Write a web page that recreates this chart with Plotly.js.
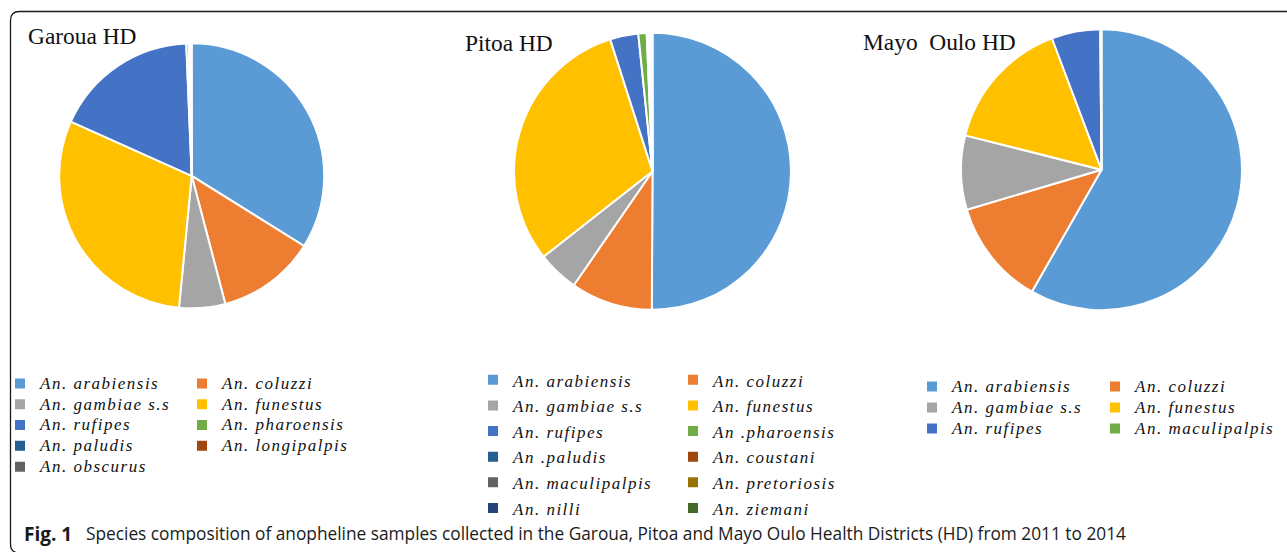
<!DOCTYPE html>
<html>
<head>
<meta charset="utf-8">
<script src="https://cdn.plot.ly/plotly-3.0.1.min.js"></script>
<style>
  html, body { margin: 0; padding: 0; background: #ffffff; overflow: hidden; }
  #page { position: relative; width: 1287px; height: 552px; }
  .plot { position: absolute; top: 0; height: 552px; }
</style>
</head>
<body>
<div id="page">
  <div id="bg" class="plot" style="left:0;width:1287px;"></div>
  <div id="garoua" class="plot" style="left:0;width:430px;"></div>
  <div id="pitoa" class="plot" style="left:430px;width:430px;"></div>
  <div id="mayo" class="plot" style="left:860px;width:427px;"></div>
</div>
<script>
// ---------------- DATA ----------------
const garouaTitle = "Garoua HD";
const garouaLabels = ["An. arabiensis", "An. coluzzi", "An. gambiae s.s", "An. funestus", "An. rufipes",
                      "An. pharoensis", "An. paludis", "An. longipalpis", "An. obscurus"];
const garouaValues = [33.8, 12.0, 5.6, 30.1, 17.6, 0.3, 0.15, 0.1, 0.1];

const pitoaTitle = "Pitoa HD";
const pitoaLabels = ["An. arabiensis", "An. coluzzi", "An. gambiae s.s", "An. funestus", "An. rufipes",
                     "An .pharoensis", "An .paludis", "An. coustani", "An. maculipalpis", "An. pretoriosis",
                     "An. nilli", "An. ziemani"];
const pitoaValues = [50.1, 9.55, 4.8, 30.65, 3.3, 0.97, 0.2, 0.1, 0.15, 0.1, 0.06, 0.06];

const mayoTitle = "Mayo\u00a0 Oulo HD";
const mayoLabels = ["An. arabiensis", "An. coluzzi", "An. gambiae s.s", "An. funestus", "An. rufipes",
                    "An. maculipalpis"];
const mayoValues = [58.25, 12.15, 8.53, 15.33, 5.6, 0.14];

const captionLead = "Fig. 1";
const captionText = "Species composition of anopheline samples collected in the Garoua, Pitoa and Mayo Oulo Health Districts (HD) from 2011 to 2014";

// ---------------- STYLES ----------------
const garouaColors = ["#5B9BD5", "#ED7D31", "#A5A5A5", "#FFC000", "#4472C4", "#70AD47", "#255E91", "#9E480E", "#636363"];
const pitoaColors  = ["#5B9BD5", "#ED7D31", "#A5A5A5", "#FFC000", "#4472C4", "#70AD47", "#255E91", "#9E480E", "#636363", "#997300", "#264478", "#43682B"];
const mayoColors   = ["#5B9BD5", "#ED7D31", "#A5A5A5", "#FFC000", "#4472C4", "#70AD47"];

const H = 552;
const serif = "'Liberation Serif', 'Times New Roman', serif";
const sans = "'Open Sans', 'Noto Sans', sans-serif";
const cfg = { staticPlot: true, displayModeBar: false, responsive: false };

function styledLabel(t) {
  return '<span style="font-size:17px;letter-spacing:1.5px">' + t + '</span>';
}

// o: pixel geometry in the div's own coordinates
function drawPie(id, W, title, labels, values, colors, o) {
  const trace = {
    type: 'pie',
    labels: labels.map(styledLabel),
    values: values,
    sort: false,
    direction: 'clockwise',
    rotation: 0,
    textinfo: 'none',
    hoverinfo: 'label+percent',
    marker: { colors: colors, line: { color: '#ffffff', width: 2 } },
    domain: {
      x: [(o.cx - o.r) / W, (o.cx + o.r) / W],
      y: [1 - (o.cy + o.r) / H, 1 - (o.cy - o.r) / H]
    },
    showlegend: true
  };
  const layout = {
    width: W, height: H,
    margin: { l: 0, r: 0, t: 0, b: 0, pad: 0, autoexpand: false },
    paper_bgcolor: 'rgba(0,0,0,0)',
    plot_bgcolor: 'rgba(0,0,0,0)',
    showlegend: true,
    legend: {
      orientation: 'h',
      x: o.lx / W, xanchor: 'left',
      y: 1 - o.ly / H, yanchor: 'top',
      bgcolor: 'rgba(0,0,0,0)',
      borderwidth: 0,
      entrywidth: o.ew, entrywidthmode: 'pixels',
      traceorder: 'normal',
      font: { family: serif, size: o.lfs, style: 'italic', color: '#111111' }
    },
    annotations: [{
      text: title, xref: 'paper', yref: 'paper',
      x: o.tx / W, y: 1 - o.ty / H, xanchor: 'left', yanchor: 'middle',
      showarrow: false,
      font: { family: serif, size: 23.4, color: '#111111' }
    }]
  };
  Plotly.newPlot(id, [trace], layout, cfg);
}

// background: frame + caption
Plotly.newPlot('bg', [], {
  width: 1287, height: H,
  margin: { l: 0, r: 0, t: 0, b: 0, pad: 0, autoexpand: false },
  paper_bgcolor: '#ffffff', plot_bgcolor: '#ffffff',
  xaxis: { range: [0, 1287], visible: false, fixedrange: true },
  yaxis: { range: [H, 0], visible: false, fixedrange: true },
  shapes: [{
    type: 'path', xref: 'x', yref: 'y',
    path: 'M 1300,553 L 19.5,553 Q 10.5,553 10.5,544 L 10.5,20.5 Q 10.5,11.5 19.5,11.5 L 1300,11.5',
    line: { color: '#1a1a1a', width: 1.3 }
  }],
  annotations: [
    { text: '<b>' + captionLead + '</b>', xref: 'x', yref: 'y', x: 22, y: 533.5,
      xanchor: 'left', yanchor: 'middle', showarrow: false,
      font: { family: sans, size: 19, color: '#1a1a1a' } },
    { text: captionText, xref: 'x', yref: 'y', x: 84, y: 533.5,
      xanchor: 'left', yanchor: 'middle', showarrow: false,
      font: { family: sans, size: 17.3, color: '#1a1a1a' } }
  ]
}, cfg);

drawPie('garoua', 430, garouaTitle, garouaLabels, garouaValues, garouaColors,
  { cx: 191.7, cy: 175.8, r: 132.5, lx: 0, ly: 368, ew: 137, lfs: 13.7, tx: 25.5, ty: 35.5 });
drawPie('pitoa', 430, pitoaTitle, pitoaLabels, pitoaValues, pitoaColors,
  { cx: 222.5, cy: 171.3, r: 138.5, lx: 43, ly: 362, ew: 155, lfs: 17.4, tx: 32.5, ty: 43.5 });
drawPie('mayo', 427, mayoTitle, mayoLabels, mayoValues, mayoColors,
  { cx: 241.5, cy: 169.7, r: 140.5, lx: 52, ly: 371, ew: 138, lfs: 13.85, tx: 0.5, ty: 42 });
</script>
</body>
</html>
